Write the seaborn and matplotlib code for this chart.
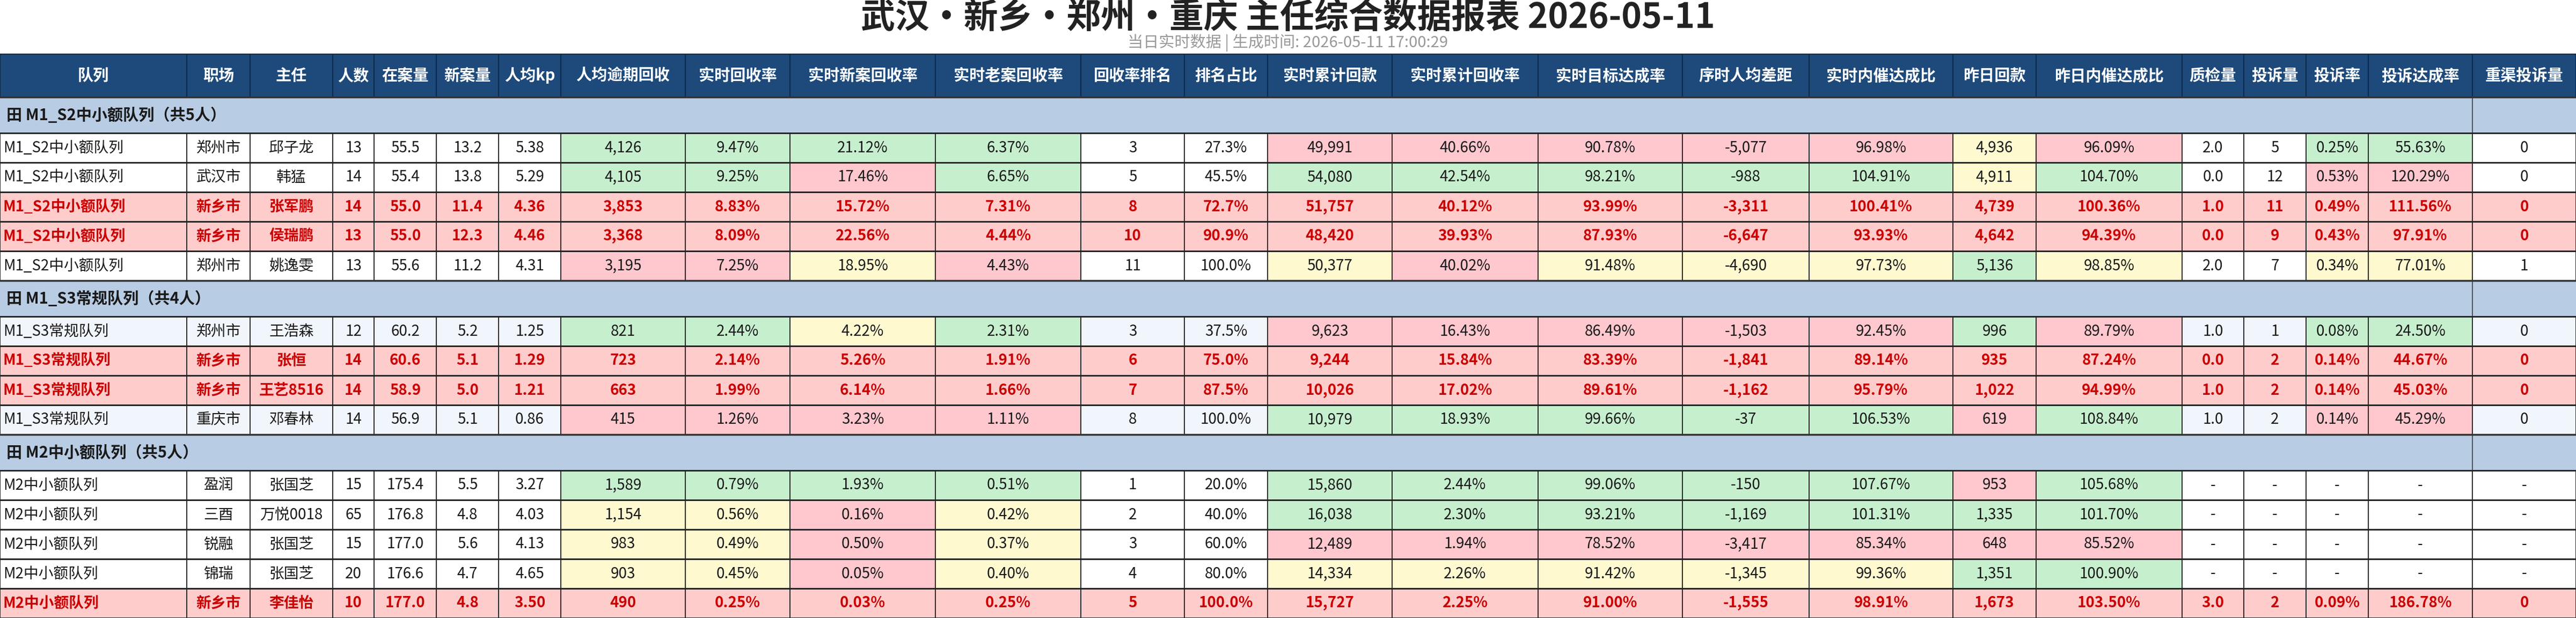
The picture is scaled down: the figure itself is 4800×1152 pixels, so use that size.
import matplotlib
matplotlib.use("Agg")
import matplotlib.pyplot as plt
from matplotlib.patches import Rectangle
import seaborn as sns

sns.set_theme(style="white")
plt.rcParams['font.family'] = ['Noto Sans CJK SC', 'DejaVu Sans']

title = "武汉•新乡•郑州•重庆 主任综合数据报表 2026-05-11"
subtitle = "当日实时数据 | 生成时间: 2026-05-11 17:00:29"

headers = ["队列", "职场", "主任", "人数", "在案量", "新案量", "人均kp", "人均逾期回收", "实时回收率",
           "实时新案回收率", "实时老案回收率", "回收率排名", "排名占比", "实时累计回款", "实时累计回收率",
           "实时目标达成率", "序时人均差距", "实时内催达成比", "昨日回款", "昨日内催达成比", "质检量",
           "投诉量", "投诉率", "投诉达成率", "重渠投诉量"]

groups = ["M1_S2中小额队列", "M1_S3常规队列", "M2中小额队列"]
group_sizes = [5, 4, 5]

teams = ["M1_S2中小额队列"] * 5 + ["M1_S3常规队列"] * 4 + ["M2中小额队列"] * 5
sites = ["郑州市", "武汉市", "新乡市", "新乡市", "郑州市", "郑州市", "新乡市", "新乡市", "重庆市",
         "盈润", "三酉", "锐融", "锦瑞", "新乡市"]
directors = ["邱子龙", "韩猛", "张军鹏", "侯瑞鹏", "姚逸雯", "王浩森", "张恒", "王艺8516", "邓春林",
             "张国芝", "万悦0018", "张国芝", "张国芝", "李佳怡"]
headcount = [13, 14, 14, 13, 13, 12, 14, 14, 14, 15, 65, 15, 20, 10]
cases = [55.5, 55.4, 55.0, 55.0, 55.6, 60.2, 60.6, 58.9, 56.9, 175.4, 176.8, 177.0, 176.6, 177.0]
new_cases = [13.2, 13.8, 11.4, 12.3, 11.2, 5.2, 5.1, 5.0, 5.1, 5.5, 4.8, 5.6, 4.7, 4.8]
kp = [5.38, 5.29, 4.36, 4.46, 4.31, 1.25, 1.29, 1.21, 0.86, 3.27, 4.03, 4.13, 4.65, 3.50]
overdue = [4126, 4105, 3853, 3368, 3195, 821, 723, 663, 415, 1589, 1154, 983, 903, 490]
rate = [9.47, 9.25, 8.83, 8.09, 7.25, 2.44, 2.14, 1.99, 1.26, 0.79, 0.56, 0.49, 0.45, 0.25]
new_rate = [21.12, 17.46, 15.72, 22.56, 18.95, 4.22, 5.26, 6.14, 3.23, 1.93, 0.16, 0.50, 0.05, 0.03]
old_rate = [6.37, 6.65, 7.31, 4.44, 4.43, 2.31, 1.91, 1.66, 1.11, 0.51, 0.42, 0.37, 0.40, 0.25]
rank = [3, 5, 8, 10, 11, 3, 6, 7, 8, 1, 2, 3, 4, 5]
rank_pct = [27.3, 45.5, 72.7, 90.9, 100.0, 37.5, 75.0, 87.5, 100.0, 20.0, 40.0, 60.0, 80.0, 100.0]
cum = [49991, 54080, 51757, 48420, 50377, 9623, 9244, 10026, 10979, 15860, 16038, 12489, 14334, 15727]
cum_rate = [40.66, 42.54, 40.12, 39.93, 40.02, 16.43, 15.84, 17.02, 18.93, 2.44, 2.30, 1.94, 2.26, 2.25]
target = [90.78, 98.21, 93.99, 87.93, 91.48, 86.49, 83.39, 89.61, 99.66, 99.06, 93.21, 78.52, 91.42, 91.00]
gap = [-5077, -988, -3311, -6647, -4690, -1503, -1841, -1162, -37, -150, -1169, -3417, -1345, -1555]
inner = [96.98, 104.91, 100.41, 93.93, 97.73, 92.45, 89.14, 95.79, 106.53, 107.67, 101.31, 85.34, 99.36, 98.91]
yday = [4936, 4911, 4739, 4642, 5136, 996, 935, 1022, 619, 953, 1335, 648, 1351, 1673]
yday_inner = [96.09, 104.70, 100.36, 94.39, 98.85, 89.79, 87.24, 94.99, 108.84, 105.68, 101.70, 85.52, 100.90, 103.50]
qc = [2.0, 0.0, 1.0, 0.0, 2.0, 1.0, 0.0, 1.0, 1.0, None, None, None, None, 3.0]
complaints = [5, 12, 11, 9, 7, 1, 2, 2, 2, None, None, None, None, 2]
comp_rate = [0.25, 0.53, 0.49, 0.43, 0.34, 0.08, 0.14, 0.14, 0.14, None, None, None, None, 0.09]
comp_target = [55.63, 120.29, 111.56, 97.91, 77.01, 24.50, 44.67, 45.03, 45.29, None, None, None, None, 186.78]
repeat = [0, 0, 0, 0, 1, 0, 0, 0, 0, None, None, None, None, 0]

highlight = [False, False, True, True, False, False, True, True, False, False, False, False, False, True]

# cell colour codes per row for the 25 columns: W white, B pale blue, G green, R red, Y yellow
cell_codes = [
    "WWWWWWWGGGGWWRRRRRYRWWGGW",
    "WWWWWWWGGRGWWGGGGGYGWWRRW",
    "RRRRRRRRRRRRRRRRRRRRRRRRR",
    "RRRRRRRRRRRRRRRRRRRRRRRRR",
    "WWWWWWWRRYRWWYRYYYGYWWYYW",
    "BBBBBBBGGYGBBRRRRRGRBBGGB",
    "RRRRRRRRRRRRRRRRRRRRRRRRR",
    "RRRRRRRRRRRRRRRRRRRRRRRRR",
    "BBBBBBBRRRRBBGGGGGRGBBRRB",
    "WWWWWWWGGGGWWGGGGGRGWWWWW",
    "WWWWWWWYYRYWWGGGGGGGWWWWW",
    "WWWWWWWYYRYWWRRRRRRRWWWWW",
    "WWWWWWWYYRYWWYYYYYGGWWWWW",
    "RRRRRRRRRRRRRRRRRRRRRRRRR",
]
fills = {"W": "#FFFFFF", "B": "#F1F5FC", "G": "#C6EFCE", "R": "#FFC7CE", "Y": "#FFF9D0"}
hl_fill = "#FFCCCC"


def f_int(v):
    return "-" if v is None else f"{v:,}"


def f_pct(v, d=2):
    return "-" if v is None else f"{v:.{d}f}%"


def f_num(v, d):
    return "-" if v is None else f"{v:.{d}f}"


rows = []
for i in range(len(teams)):
    rows.append([teams[i], sites[i], directors[i], str(headcount[i]), f_num(cases[i], 1),
                 f_num(new_cases[i], 1), f_num(kp[i], 2), f_int(overdue[i]), f_pct(rate[i]),
                 f_pct(new_rate[i]), f_pct(old_rate[i]), str(rank[i]), f_pct(rank_pct[i], 1),
                 f_int(cum[i]), f_pct(cum_rate[i]), f_pct(target[i]), f_int(gap[i]), f_pct(inner[i]),
                 f_int(yday[i]), f_pct(yday_inner[i]), f_num(qc[i], 1), f_int(complaints[i]),
                 f_pct(comp_rate[i]), f_pct(comp_target[i]), f_int(repeat[i])])

col_edges = [0, 348, 466, 620, 697, 813, 929, 1045, 1277, 1472, 1743, 2014, 2207, 2362, 2594,
             2866, 3135, 3371, 3639, 3794, 4066, 4181, 4297, 4413, 4607, 4800]
W, H = 4800, 1152
head_top, head_bot = 101, 181
group_h, row_h = 67, 55

fig = plt.figure(figsize=(48, 11.52), dpi=100)
ax = fig.add_axes([0, 0, 1, 1])
ax.set_xlim(0, W)
ax.set_ylim(H, 0)
ax.axis("off")

ax.text(W / 2, 34, title, ha="center", va="center", fontsize=46, fontweight="bold", color="#222222")
ax.text(W / 2, 80, subtitle, ha="center", va="center", fontsize=21, color="#999999")

# header
for c in range(25):
    x0, x1 = col_edges[c], col_edges[c + 1]
    ax.add_patch(Rectangle((x0, head_top), x1 - x0, head_bot - head_top, facecolor="#1D4A7B",
                           edgecolor="#0E2A4A", lw=1.5))
    ax.text((x0 + x1) / 2, (head_top + head_bot) / 2, headers[c], ha="center", va="center",
            fontsize=21, fontweight="bold", color="white")

y = head_bot
r = 0
for g, n in zip(groups, group_sizes):
    ax.add_patch(Rectangle((0, y), W, group_h, facecolor="#B8CCE4", edgecolor="none"))
    ax.plot([col_edges[-2], col_edges[-2]], [y, y + group_h], color="#555555", lw=1.5)
    ax.plot([0, W], [y, y], color="#333333", lw=2.5)
    ax.text(12, y + group_h / 2, f"田 {g}（共{n}人）", ha="left", va="center", fontsize=21,
            fontweight="bold", color="#1A1A1A")
    y += group_h
    for _ in range(n):
        hl = highlight[r]
        for c in range(25):
            x0, x1 = col_edges[c], col_edges[c + 1]
            fc = hl_fill if hl else fills[cell_codes[r][c]]
            ax.add_patch(Rectangle((x0, y), x1 - x0, row_h, facecolor=fc, edgecolor="#222222", lw=1.3))
            tx = x0 + 6 if c == 0 else (x0 + x1) / 2
            ax.text(tx, y + row_h / 2, rows[r][c], ha="left" if c == 0 else "center", va="center",
                    fontsize=20, fontweight="bold" if hl else "normal",
                    color="#CC0000" if hl else "#1A1A1A")
        ax.plot([0, W], [y, y], color="#222222", lw=2)
        y += row_h
        r += 1

fig.savefig("out.png", dpi=100)
